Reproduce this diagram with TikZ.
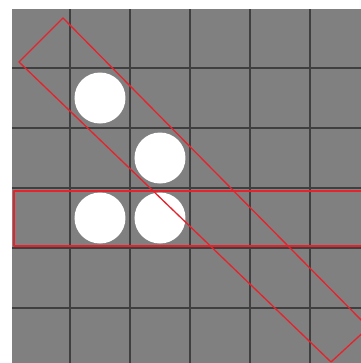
\documentclass[tikz,border=0pt]{standalone}
\usepackage{tikz}
\usetikzlibrary{calc}
\usepackage{xcolor}
\definecolor{board}{HTML}{808080}
\definecolor{gridline}{HTML}{3F3F3F}
\definecolor{mark}{HTML}{E5232D}

\begin{document}
\begin{tikzpicture}[x=0.02cm, y=-0.02cm, line join=round, line cap=round,
  stone/.style={fill=white},
  row/.style={draw=mark, line width=1.4pt},
  diag/.style={draw=mark, line width=0.75pt}]
 % Page
 \useasboundingbox (0,0) rectangle (361,363);
 \fill[white] (0,0) rectangle (361,363);
 \begin{scope}
 \clip (0,0) rectangle (361,363);
 % Board
 \fill[board] (12,9) rectangle (380,380);
 \foreach \k in {1,...,5} {
   \draw[gridline, line width=1.5pt, line cap=butt] ({10+60*\k},9) -- ({10+60*\k},363);
   \draw[gridline, line width=1.5pt, line cap=butt] (12,{8+60*\k}) -- (361,{8+60*\k});
 }
 % Stones
 \fill[stone] (100,98) circle (25.5);
 \fill[stone] (160,158) circle (25.5);
 \fill[stone] (100,218) circle (25.5);
 \fill[stone] (160,218) circle (25.5);
 % Lines of three
 \draw[row] (14,191) rectangle (372,246);
 \draw[diag] (19,62) -- (63,18) -- (368.5,327.5) -- (331,362) -- cycle;
 \end{scope}
\end{tikzpicture}
\end{document}
